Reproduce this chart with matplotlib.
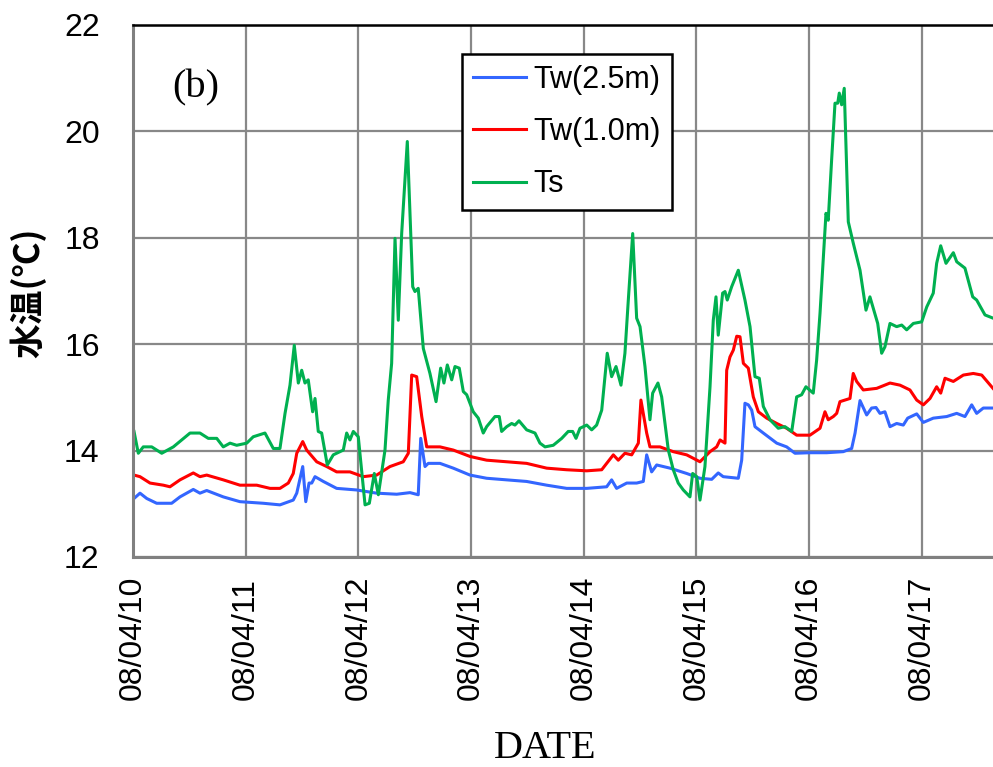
import matplotlib
matplotlib.use("Agg")
import matplotlib.pyplot as plt

# time in days since 08/04/10 00:00
tick_days = [0, 1, 2, 3, 4, 5, 6, 7]
tick_labels = ["08/04/10", "08/04/11", "08/04/12", "08/04/13",
               "08/04/14", "08/04/15", "08/04/16", "08/04/17"]

ts_t = [0.009, 0.047, 0.091, 0.166, 0.255, 0.358, 0.506, 0.594, 0.668, 0.743,
        0.801, 0.861, 0.920, 1.009, 1.067, 1.171, 1.245, 1.304, 1.349, 1.393,
        1.431, 1.467, 1.497, 1.526, 1.555, 1.594, 1.615, 1.644, 1.674, 1.724,
        1.777, 1.866, 1.896, 1.925, 1.955, 1.999, 2.059, 2.097, 2.141, 2.177,
        2.236, 2.265, 2.295, 2.325, 2.354, 2.384, 2.434, 2.482, 2.502, 2.531,
        2.576, 2.635, 2.689, 2.730, 2.759, 2.789, 2.828, 2.857, 2.895, 2.931,
        2.961, 3.019, 3.064, 3.108, 3.138, 3.212, 3.250, 3.271, 3.316, 3.360,
        3.389, 3.425, 3.493, 3.567, 3.611, 3.656, 3.729, 3.804, 3.862, 3.901,
        3.931, 3.966, 4.026, 4.070, 4.114, 4.159, 4.208, 4.247, 4.286, 4.330,
        4.365, 4.395, 4.434, 4.469, 4.499, 4.543, 4.587, 4.611, 4.658, 4.691,
        4.750, 4.794, 4.838, 4.883, 4.942, 4.966, 5.002, 5.031, 5.075, 5.120,
        5.149, 5.173, 5.193, 5.232, 5.253, 5.273, 5.312, 5.371, 5.430, 5.475,
        5.519, 5.557, 5.593, 5.652, 5.726, 5.785, 5.845, 5.889, 5.933, 5.971,
        6.036, 6.066, 6.096, 6.149, 6.169, 6.199, 6.229, 6.253, 6.267, 6.288,
        6.311, 6.347, 6.391, 6.451, 6.504, 6.539, 6.569, 6.608, 6.643, 6.672,
        6.717, 6.776, 6.821, 6.865, 6.924, 6.998, 7.043, 7.101, 7.131, 7.167,
        7.214, 7.279, 7.309, 7.382, 7.451, 7.486, 7.560, 7.631]
ts_v = [14.36, 13.95, 14.07, 14.07, 13.95, 14.07, 14.33, 14.33, 14.23, 14.23,
        14.07, 14.14, 14.10, 14.14, 14.26, 14.33, 14.04, 14.04, 14.70, 15.23,
        15.98, 15.27, 15.51, 15.27, 15.33, 14.73, 14.98, 14.36, 14.33, 13.73,
        13.92, 14.01, 14.33, 14.20, 14.36, 14.26, 12.98, 13.01, 13.57, 13.17,
        14.01, 14.95, 15.64, 17.99, 16.45, 18.08, 19.81, 17.08, 16.99, 17.05,
        15.92, 15.45, 14.92, 15.55, 15.27, 15.61, 15.33, 15.58, 15.55, 15.11,
        15.05, 14.73, 14.61, 14.33, 14.45, 14.64, 14.64, 14.36, 14.45, 14.51,
        14.48, 14.56, 14.39, 14.33, 14.14, 14.07, 14.10, 14.23, 14.36, 14.36,
        14.23, 14.42, 14.48, 14.39, 14.48, 14.76, 15.83, 15.39, 15.58, 15.23,
        15.83, 16.83, 18.08, 16.49, 16.33, 15.58, 14.58, 15.08, 15.27, 15.01,
        14.01, 13.64, 13.39, 13.26, 13.13, 13.57, 13.51, 13.07, 13.70, 15.20,
        16.45, 16.89, 16.17, 16.96, 16.99, 16.83, 17.08, 17.39, 16.83, 16.33,
        15.39, 15.36, 14.83, 14.58, 14.42, 14.45, 14.36, 15.01, 15.05, 15.20,
        15.08, 15.70, 16.58, 18.46, 18.33, 19.46, 20.53, 20.53, 20.72, 20.50,
        20.81, 18.30, 17.90, 17.39, 16.64, 16.89, 16.67, 16.39, 15.83, 15.95,
        16.39, 16.33, 16.36, 16.27, 16.39, 16.42, 16.70, 16.96, 17.52, 17.85,
        17.52, 17.72, 17.55, 17.43, 16.89, 16.83, 16.55, 16.49]

tw10_t = [0.009, 0.062, 0.151, 0.269, 0.328, 0.417, 0.535, 0.594, 0.654, 0.801,
          0.949, 1.098, 1.216, 1.304, 1.378, 1.422, 1.453, 1.506, 1.541, 1.630,
          1.719, 1.807, 1.925, 2.043, 2.162, 2.280, 2.398, 2.443, 2.473, 2.517,
          2.562, 2.606, 2.724, 2.842, 2.990, 3.138, 3.316, 3.493, 3.671, 3.848,
          4.026, 4.159, 4.203, 4.262, 4.306, 4.365, 4.425, 4.484, 4.507, 4.558,
          4.587, 4.676, 4.794, 4.913, 5.031, 5.120, 5.179, 5.209, 5.253, 5.268,
          5.297, 5.327, 5.357, 5.386, 5.416, 5.460, 5.504, 5.549, 5.623, 5.712,
          5.800, 5.889, 6.007, 6.096, 6.140, 6.169, 6.214, 6.244, 6.273, 6.362,
          6.391, 6.421, 6.480, 6.599, 6.717, 6.806, 6.894, 6.954, 7.013, 7.072,
          7.131, 7.167, 7.205, 7.279, 7.368, 7.456, 7.531, 7.631]
tw10_v = [13.54, 13.51, 13.39, 13.35, 13.32, 13.45, 13.58, 13.51, 13.54, 13.45,
          13.35, 13.35, 13.29, 13.29, 13.39, 13.57, 13.95, 14.17, 14.01, 13.79,
          13.70, 13.60, 13.60, 13.51, 13.54, 13.70, 13.79, 13.95, 15.42, 15.39,
          14.64, 14.07, 14.07, 14.01, 13.89, 13.82, 13.79, 13.76, 13.67, 13.64,
          13.62, 13.64, 13.76, 13.92, 13.82, 13.95, 13.92, 14.14, 14.95, 14.33,
          14.07, 14.07, 13.98, 13.92, 13.79, 13.98, 14.07, 14.20, 14.14, 15.51,
          15.76, 15.89, 16.15, 16.14, 15.64, 15.55, 15.01, 14.73, 14.61, 14.51,
          14.42, 14.29, 14.29, 14.42, 14.73, 14.58, 14.64, 14.70, 14.92, 14.98,
          15.45, 15.30, 15.14, 15.17, 15.27, 15.23, 15.14, 14.95, 14.86, 14.98,
          15.20, 15.08, 15.36, 15.30, 15.42, 15.45, 15.42, 15.17]

tw25_t = [0.009, 0.062, 0.122, 0.210, 0.343, 0.417, 0.535, 0.594, 0.654, 0.801,
          0.949, 1.156, 1.304, 1.422, 1.453, 1.506, 1.533, 1.562, 1.586, 1.615,
          1.689, 1.807, 1.985, 2.162, 2.340, 2.458, 2.531, 2.553, 2.591, 2.620,
          2.724, 2.842, 2.990, 3.138, 3.316, 3.493, 3.671, 3.848, 4.026, 4.203,
          4.247, 4.291, 4.381, 4.469, 4.528, 4.558, 4.602, 4.647, 4.765, 4.913,
          5.031, 5.135, 5.193, 5.237, 5.371, 5.401, 5.430, 5.460, 5.490, 5.519,
          5.593, 5.712, 5.800, 5.874, 6.007, 6.155, 6.302, 6.377, 6.407, 6.451,
          6.510, 6.554, 6.593, 6.628, 6.672, 6.717, 6.776, 6.835, 6.874, 6.954,
          7.013, 7.101, 7.220, 7.309, 7.382, 7.442, 7.486, 7.545, 7.631]
tw25_v = [13.10, 13.20, 13.10, 13.01, 13.01, 13.13, 13.27, 13.20, 13.25, 13.13,
          13.04, 13.01, 12.98, 13.07, 13.20, 13.70, 13.04, 13.39, 13.39, 13.51,
          13.42, 13.29, 13.26, 13.20, 13.18, 13.21, 13.17, 14.23, 13.70, 13.76,
          13.76, 13.67, 13.54, 13.48, 13.45, 13.42, 13.35, 13.29, 13.29, 13.32,
          13.45, 13.29, 13.39, 13.39, 13.42, 13.92, 13.60, 13.73, 13.67, 13.57,
          13.48, 13.46, 13.58, 13.51, 13.48, 13.82, 14.89, 14.86, 14.76, 14.45,
          14.33, 14.14, 14.07, 13.95, 13.96, 13.96, 13.98, 14.04, 14.33, 14.94,
          14.67, 14.80, 14.81, 14.70, 14.73, 14.45, 14.51, 14.48, 14.61, 14.69,
          14.53, 14.61, 14.64, 14.70, 14.64, 14.86, 14.70, 14.80, 14.80]

series_labels = ["Tw(2.5m)", "Tw(1.0m)", "Ts"]
series_colors = ["#3366FF", "#FF0000", "#00B050"]

W, H = 993, 767
fig = plt.figure(figsize=(W / 100, H / 100), dpi=100)
ax = fig.add_axes([133 / W, 1 - 557 / H, (993 - 133) / W, (557 - 25) / H])

ax.plot(tw25_t, tw25_v, color=series_colors[0], lw=2.2, label=series_labels[0])
ax.plot(tw10_t, tw10_v, color=series_colors[1], lw=2.2, label=series_labels[1])
ax.plot(ts_t, ts_v, color=series_colors[2], lw=2.2, label=series_labels[2])

ax.set_xlim(0, 7.631)
ax.set_ylim(12, 22)
ax.set_yticks([12, 14, 16, 18, 20, 22])
ax.set_xticks(tick_days)
ax.set_xticklabels(tick_labels, rotation=90, rotation_mode="anchor",
                   ha="left", va="center")
ax.grid(True, color="#888888", lw=1.6)
ax.set_axisbelow(True)
ax.tick_params(length=0)
ax.tick_params(axis="x", pad=103, labelsize=23)
ax.tick_params(axis="y", pad=24, labelsize=23)
for lab in ax.get_xticklabels() + ax.get_yticklabels():
    lab.set_family("Liberation Sans")

for s in ["left", "bottom"]:
    ax.spines[s].set_color("#808080")
    ax.spines[s].set_linewidth(2.2)
ax.spines["top"].set_color("black")
ax.spines["top"].set_linewidth(1.8)
ax.spines["right"].set_visible(False)

leg = ax.legend(loc="upper left", bbox_to_anchor=(462 / W, 1 - 54 / H),
                bbox_transform=fig.transFigure, borderaxespad=0,
                prop={"family": "Liberation Sans", "size": 22},
                fancybox=False, framealpha=1, edgecolor="black",
                handlelength=1.75, handletextpad=0.25, labelspacing=0.73,
                borderpad=0.35)
leg.get_frame().set_linewidth(1.8)

fig.text(196 / W, 1 - 88 / H, "(b)", family="Liberation Serif", fontsize=29,
         ha="center", va="center")
fig.text(28 / W, 1 - 293 / H, "水温(℃)", family=["Noto Sans CJK JP", "DejaVu Sans"],
         fontsize=25, fontweight="bold", rotation=90, ha="center", va="center")
fig.text(545 / W, 1 - 748 / H, "DATE", family="Liberation Serif", fontsize=29,
         ha="center", va="center")

fig.savefig("out.png", dpi=100)
